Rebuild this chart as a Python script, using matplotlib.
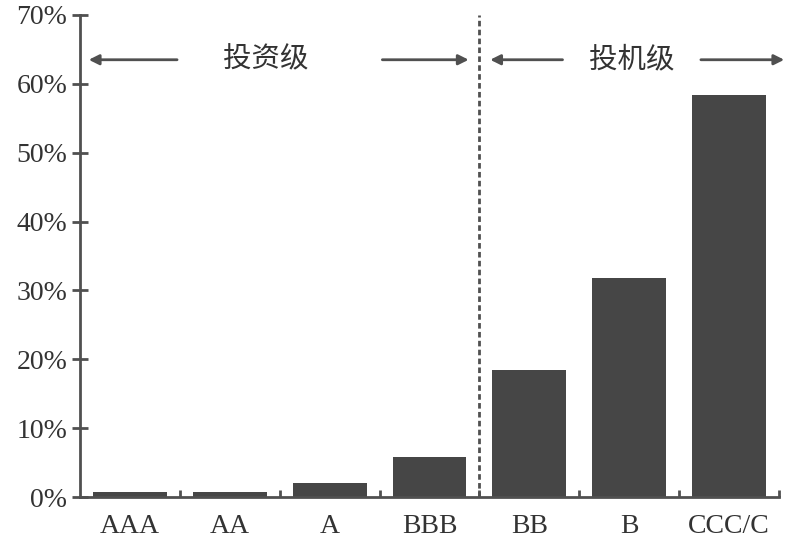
import matplotlib.pyplot as plt
from matplotlib.ticker import FixedLocator, FuncFormatter

# ratings and default rates (%)
ratings = ['AAA', 'AA', 'A', 'BBB', 'BB', 'B', 'CCC/C']
default_rate = [0.8, 0.7, 2.1, 5.8, 18.4, 31.8, 58.4]
yticks = [0, 10, 20, 30, 40, 50, 60, 70]
group_labels = ['投资级', '投机级']

plt.rcParams['font.family'] = ['Liberation Serif', 'Noto Sans CJK SC']

axis_color = '#505050'
bar_color = '#464646'

fig = plt.figure(figsize=(7.92, 5.45), dpi=100)
ax = fig.add_axes([0.101, 0.088, 0.8826, 0.8845])

x = list(range(len(ratings)))
ax.bar(x, default_rate, width=0.74, color=bar_color, zorder=2)

ax.set_xlim(-0.5, len(ratings) - 0.5)
ax.set_ylim(0, 70)

# spines
for side in ['top', 'right']:
    ax.spines[side].set_visible(False)
for side in ['left', 'bottom']:
    ax.spines[side].set_color(axis_color)
    ax.spines[side].set_linewidth(2)

# y ticks
ax.yaxis.set_major_locator(FixedLocator(yticks))
ax.yaxis.set_major_formatter(FuncFormatter(lambda v, p: '%d%%' % v))
ax.tick_params(axis='y', direction='inout', length=12, width=2,
               color=axis_color, labelsize=20, labelcolor='#333333', pad=3)

# x ticks: labels at centres, small marks at boundaries
ax.set_xticks(x)
ax.set_xticklabels(ratings)
ax.tick_params(axis='x', which='major', length=0, labelsize=20,
               labelcolor='#333333', pad=12)
ax.xaxis.set_minor_locator(FixedLocator([i + 0.5 for i in x]))
ax.tick_params(axis='x', which='minor', direction='in', length=5, width=2,
               color=axis_color)

# divider between investment and speculative grade
ax.axvline(3.5, ymin=0, ymax=1.0, color=axis_color, linestyle=(0, (2, 1.2)),
           linewidth=2, zorder=3)

# arrows and group labels
arrow_y = 63.5
arrow_kw = dict(arrowstyle='-|>', color=axis_color, lw=2, mutation_scale=15)
ax.annotate('', xy=(-0.44, arrow_y), xytext=(0.5, arrow_y),
            arrowprops=arrow_kw, annotation_clip=False)
ax.annotate('', xy=(3.42, arrow_y), xytext=(2.5, arrow_y),
            arrowprops=arrow_kw, annotation_clip=False)
ax.annotate('', xy=(3.58, arrow_y), xytext=(4.36, arrow_y),
            arrowprops=arrow_kw, annotation_clip=False)
ax.annotate('', xy=(6.58, arrow_y), xytext=(5.69, arrow_y),
            arrowprops=arrow_kw, annotation_clip=False)
ax.text(1.36, arrow_y, group_labels[0], ha='center', va='center',
        fontsize=20.5, color='#333333', family=['Noto Sans CJK SC'])
ax.text(5.03, arrow_y, group_labels[1], ha='center', va='center',
        fontsize=20.5, color='#333333', family=['Noto Sans CJK SC'])

fig.savefig('out.png', dpi=100)
